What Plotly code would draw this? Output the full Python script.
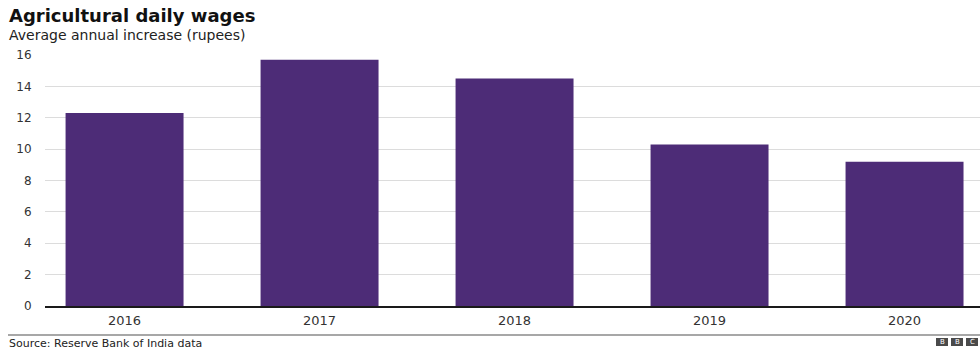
import plotly.graph_objects as go

years = ["2016", "2017", "2018", "2019", "2020"]
increase = [12.3, 15.7, 14.5, 10.3, 9.2]
y_ticks = [0, 2, 4, 6, 8, 10, 12, 14, 16]

W, H = 980, 349
ML, MR, MT, MB = 45, 0, 55, 43
PW = W - ML - MR
PH = H - MT - MB

def px_x(x):
    return (x - ML) / PW

def px_y(y):
    return (H - MB - y) / PH

FONT = "DejaVu Sans"
BAR = "#4d2c77"

fig = go.Figure(go.Bar(
    x=list(range(len(years))), y=increase,
    marker=dict(color=BAR, line=dict(width=0)),
    width=0.605, hoverinfo="skip",
))

fig.update_layout(
    width=W, height=H,
    margin=dict(l=ML, r=MR, t=MT, b=MB),
    paper_bgcolor="white", plot_bgcolor="white",
    showlegend=False,
    font=dict(family=FONT, color="#222222"),
    xaxis=dict(
        range=[-0.408, 4.387],
        tickmode="array", tickvals=list(range(len(years))), ticktext=years,
        showgrid=False, zeroline=False,
        showline=True, linecolor="#1a1a1a", linewidth=1.5,
        ticks="outside", ticklen=2, tickcolor="rgba(0,0,0,0)",
        tickfont=dict(family=FONT, size=13, color="#333333"),
        fixedrange=True,
    ),
    yaxis=dict(
        range=[0, 16],
        tickmode="array", tickvals=y_ticks,
        showgrid=True, gridcolor="#dcdcdc", gridwidth=1,
        zeroline=False, showline=False,
        ticks="outside", ticklen=10, tickcolor="rgba(0,0,0,0)",
        tickfont=dict(family=FONT, size=12, color="#333333"),
        fixedrange=True,
    ),
    shapes=[
        dict(type="line", xref="paper", yref="paper",
             x0=px_x(8), x1=px_x(980), y0=px_y(335), y1=px_y(335),
             line=dict(color="#8a8a8a", width=1.5)),
        dict(type="rect", xref="paper", yref="paper",
             x0=px_x(936), x1=px_x(948), y0=px_y(346), y1=px_y(338),
             fillcolor="#4a4a4a", line=dict(width=0)),
        dict(type="rect", xref="paper", yref="paper",
             x0=px_x(951), x1=px_x(963), y0=px_y(346), y1=px_y(338),
             fillcolor="#4a4a4a", line=dict(width=0)),
        dict(type="rect", xref="paper", yref="paper",
             x0=px_x(966), x1=px_x(978), y0=px_y(346), y1=px_y(338),
             fillcolor="#4a4a4a", line=dict(width=0)),
    ],
    annotations=[
        dict(text="<b>Agricultural daily wages</b>", xref="paper", yref="paper",
             x=px_x(7), y=px_y(16), xanchor="left", yanchor="middle",
             showarrow=False, font=dict(family=FONT, size=18, color="#111111")),
        dict(text="Average annual increase (rupees)", xref="paper", yref="paper",
             x=px_x(7), y=px_y(35), xanchor="left", yanchor="middle",
             showarrow=False, font=dict(family=FONT, size=14, color="#222222")),
        dict(text="Source: Reserve Bank of India data", xref="paper", yref="paper",
             x=px_x(7), y=px_y(343), xanchor="left", yanchor="middle",
             showarrow=False, font=dict(family=FONT, size=11, color="#222222")),
        dict(text="B", xref="paper", yref="paper", x=px_x(942), y=px_y(342),
             xanchor="center", yanchor="middle", showarrow=False,
             font=dict(family=FONT, size=7, color="white")),
        dict(text="B", xref="paper", yref="paper", x=px_x(957), y=px_y(342),
             xanchor="center", yanchor="middle", showarrow=False,
             font=dict(family=FONT, size=7, color="white")),
        dict(text="C", xref="paper", yref="paper", x=px_x(972), y=px_y(342),
             xanchor="center", yanchor="middle", showarrow=False,
             font=dict(family=FONT, size=7, color="white")),
    ],
)

fig.write_html("out.html", config={"displayModeBar": False})
